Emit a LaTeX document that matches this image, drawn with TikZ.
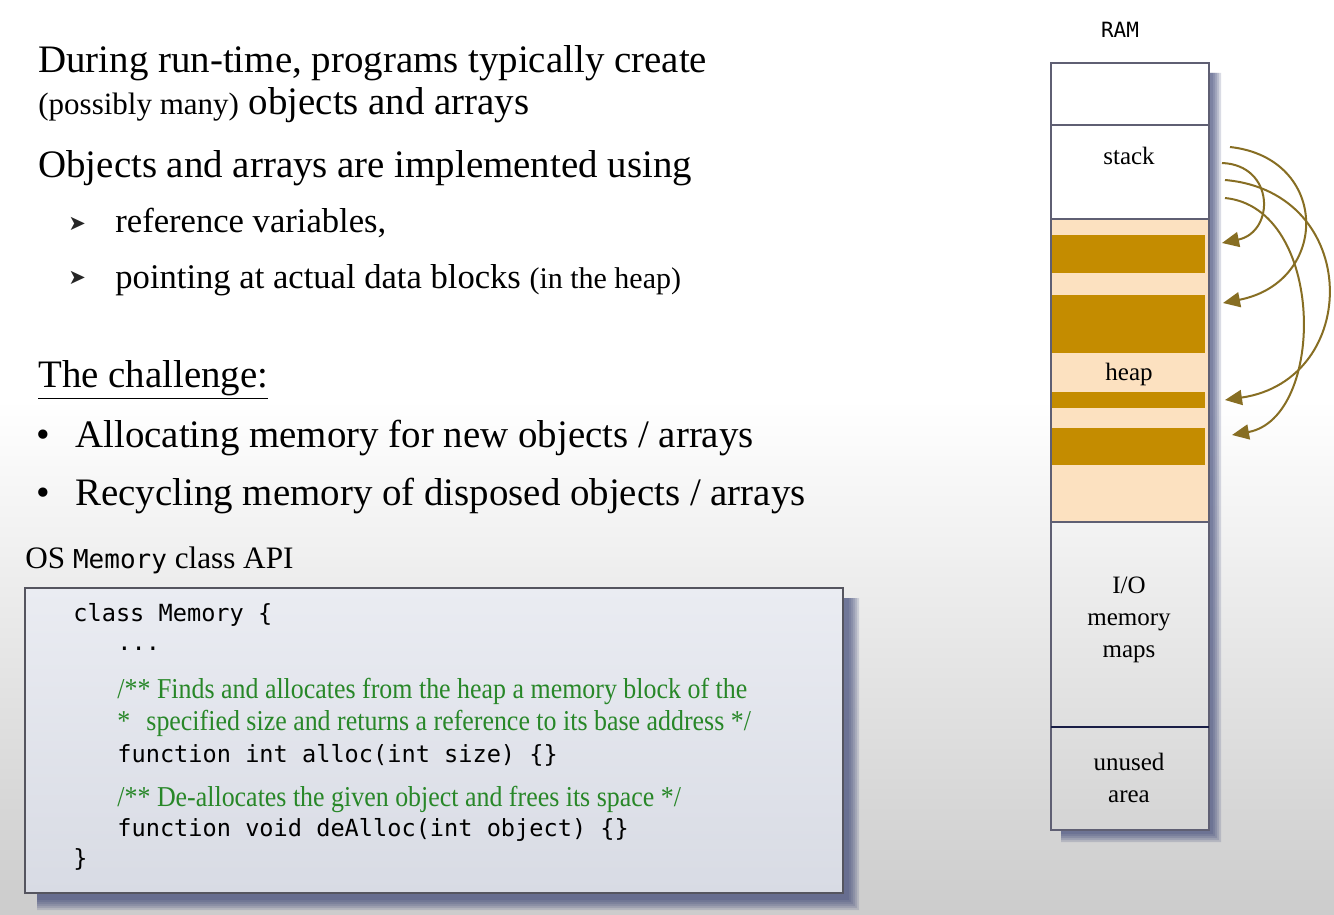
\documentclass[tikz,border=0pt]{standalone}
\usepackage{fontspec}
\setmainfont{Liberation Serif}
\setmonofont{DejaVu Sans Mono}
\newfontfamily\cmtfont[FakeStretch=0.9]{Liberation Serif}
\newfontfamily\dingfont{DejaVu Sans}
\usetikzlibrary{arrows.meta}
\definecolor{heapbg}{RGB}{252,225,192}
\definecolor{heapblk}{RGB}{196,140,0}
\definecolor{ptrcol}{RGB}{135,110,35}
\definecolor{cmtgreen}{RGB}{40,135,40}
\definecolor{boxtop}{RGB}{234,236,242}
\definecolor{boxbot}{RGB}{216,219,228}
\definecolor{boxline}{RGB}{85,85,95}
\definecolor{shadowblue}{RGB}{55,65,115}
\definecolor{ramline}{RGB}{95,95,115}
\definecolor{ramnavy}{RGB}{25,30,70}
\begin{document}
\begin{tikzpicture}[x=0.5pt,y=-0.5pt,
    txt/.style={anchor=base west,inner sep=0pt,font=\fontsize{19.45}{22}\selectfont},
    sub/.style={anchor=base west,inner sep=0pt,font=\fontsize{17.3}{20}\selectfont},
    arrowmark/.style={anchor=base west,inner sep=0pt,text=black!85,font=\fontsize{10.5}{12}\dingfont},
    code/.style={anchor=base west,inner sep=0pt,font=\fontsize{11.8}{14}\selectfont\ttfamily},
    cmt/.style={anchor=base west,inner sep=0pt,text=cmtgreen,font=\fontsize{14.4}{16}\cmtfont},
    lbl/.style={align=center,inner sep=0pt,font=\fontsize{12.5}{16}\selectfont},
    ptr/.style={ptrcol,line width=1pt,-{Triangle[length=8.5pt,width=7.5pt]}}]
    \useasboundingbox (0,0) rectangle (1334,915);
    % background
    \fill[white] (0,0) rectangle (1334,401);
    \shade[top color=white,bottom color=gray!40] (0,400) rectangle (1334,915);
    % bullet text
    \node[txt] (l1) at (38,73) {During run-time, programs typically create};
    \node[txt] (l2) at (38,115) {{\fontsize{15.5}{17}\selectfont (possibly many)} objects and arrays};
    \node[txt] (l3) at (38,177) {Objects and arrays are implemented using};
    \node[arrowmark] (m1) at (68,230) {➤};
    \node[sub] (b1) at (115,233) {reference variables,};
    \node[arrowmark] (m2) at (68,285) {➤};
    \node[sub] (b2) at (115,288) {pointing at actual data blocks {\fontsize{15}{17}\selectfont (in the heap)}};
    \node[txt] (ch) at (38,387) {\underline{The challenge:}};
    \node[txt] (d1) at (36,447) {•};
    \node[txt] (t1) at (75,447) {Allocating memory for new objects / arrays};
    \node[txt] (d2) at (36,505) {•};
    \node[txt] (t2) at (75,505) {Recycling memory of disposed objects / arrays};
    % code box
    \node[txt,font=\fontsize{15.6}{17}\selectfont] (api) at (25,568) {OS {\fontsize{13}{15}\selectfont\ttfamily Memory} class API};
    \foreach \r in {0,2,...,10}
        \fill[shadowblue,opacity=0.17] (843,598) -- ({849+\r},598) -- ({849+\r},{900+\r})
            -- (37,{900+\r}) -- (37,893) -- (843,893) -- cycle;
    \shade[top color=boxtop,bottom color=boxbot] (25,588) rectangle (843,893);
    \draw[boxline,line width=1pt] (25,588) rectangle (843,893);
    \node[code] (c1) at (73,621) {class Memory \{};
    \node[code] (c2) at (117,650) {...};
    \node[cmt] (c3) at (117,698) {/** Finds and allocates from the heap a memory block of the};
    \node[cmt] (c4) at (117,730) {*\,\, specified size and returns a reference to its base address */};
    \node[code] (c5) at (117,762) {function int alloc(int size) \{\}};
    \node[cmt] (c6) at (117,806) {/** De-allocates the given object and frees its space */};
    \node[code] (c7) at (117,836) {function void deAlloc(int object) \{\}};
    \node[code] (c8) at (73,866) {\}};
    % RAM
    \node[font=\fontsize{10.5}{12}\selectfont\ttfamily] (ram) at (1120,30) {RAM};
    \foreach \r in {0,2,...,8}
        \fill[shadowblue,opacity=0.19] (1209,73) -- ({1213+\r},73) -- ({1213+\r},{834+\r})
            -- (1061,{834+\r}) -- (1061,830) -- (1209,830) -- cycle;
    \fill[white] (1051,63) rectangle (1209,219);
    \fill[heapbg] (1051,219) rectangle (1209,522);
    \foreach \a/\b in {235/273,295/353,392/408,428/465}
        \fill[heapblk] (1052,\a) rectangle (1205,\b);
    \draw[ramline,line width=0.7pt] (1051,63) rectangle (1209,830);
    \foreach \y in {125,219,522}
        \draw[ramline,line width=0.7pt] (1051,\y) -- (1209,\y);
    \draw[ramnavy,line width=1pt] (1051,727) -- (1209,727);
    \node[lbl,anchor=base] (stack) at (1129,165) {stack};
    \node[lbl,anchor=base] (heap) at (1129,380) {heap};
    \node[lbl] (io) at (1129,620) {I/O\\memory\\maps};
    \node[lbl] (unused) at (1129,778) {unused\\area};
    % references
    \coordinate (s1) at (1230,147);
    \coordinate (s2) at (1222,163);
    \coordinate (s3) at (1225,180);
    \coordinate (s4) at (1225,198);
    \coordinate (h1) at (1222,243);
    \coordinate (h2) at (1223,303);
    \coordinate (h3) at (1225,400);
    \coordinate (h4) at (1232,435);
    \draw[ptr] (s2) .. controls (1275,165) and (1275,232) .. (h1);
    \draw[ptr] (s1) .. controls (1330,158) and (1330,282) .. (h2);
    \draw[ptr] (s3) .. controls (1362,192) and (1362,380) .. (h3);
    \draw[ptr] (s4) .. controls (1326,208) and (1326,418) .. (h4);
\end{tikzpicture}
\end{document}
